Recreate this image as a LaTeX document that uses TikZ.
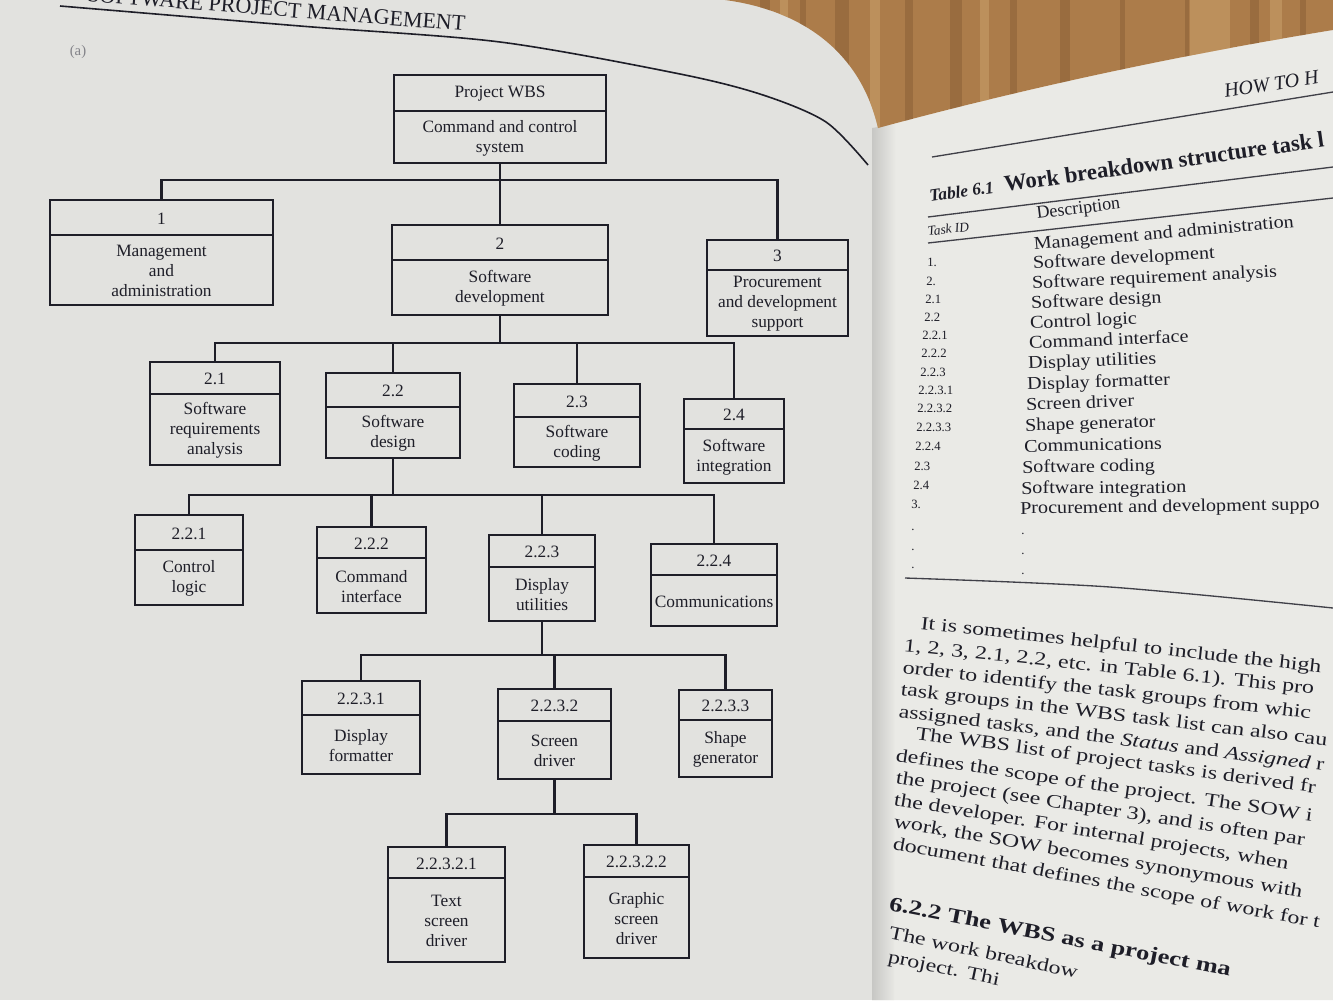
\documentclass[tikz,border=0pt]{standalone}
\usepackage{fontspec}
\setmainfont{Liberation Serif}
\newfontfamily\widepara[FakeStretch=1.28]{Liberation Serif}
\newfontfamily\widetab[FakeStretch=1.12]{Liberation Serif}
\usetikzlibrary{fit}
\definecolor{inkc}{RGB}{30,30,40}
\definecolor{pagel}{RGB}{226,226,223}
\definecolor{pager}{RGB}{234,234,230}
\definecolor{woodc}{RGB}{172,124,74}
\definecolor{woodd}{RGB}{120,80,45}
\definecolor{woodl}{RGB}{205,165,110}
\newcommand\wbsnode[8]{%
  \coordinate (#1-nw) at (#2,#3);
  \coordinate (#1-se) at (#4,#6);
  \node[wbsbox, fit=(#1-nw)(#1-se)] (#1) {};
  \draw[divider] (#2,#5) -- (#4,#5);
  \node[idtext] (#1-id) at ({(#2+#4)/2},{(#3+#5)/2+1}) {#7};
  \node[bodytext] (#1-txt) at ({(#2+#4)/2},{(#5+#6)/2+1}) {#8};
}
\begin{document}
\begin{tikzpicture}[x=0.75pt,y=-0.75pt,
  wbsbox/.style={draw=inkc,line width=1.1pt,inner sep=0pt},
  divider/.style={draw=inkc,line width=1.1pt},
  conn/.style={draw=inkc,line width=2pt},
  idtext/.style={text=inkc,inner sep=0pt,font=\fontsize{13}{15}\selectfont},
  bodytext/.style={text=inkc,inner sep=0pt,align=center,font=\fontsize{13}{15}\selectfont},
  rpt/.style={text=inkc,inner sep=0pt,anchor=base west},
  tdesc/.style={rpt,font=\widetab\fontsize{13.5}{15}\selectfont},
  tid/.style={rpt,font=\fontsize{9.5}{11}\selectfont},
  para/.style={rpt,font=\widepara\fontsize{14}{16}\selectfont},
  rulel/.style={draw=inkc!85,line width=1pt},
]
\useasboundingbox (0,0) rectangle (1333,1000);
\begin{scope}
\clip (0,0) rectangle (1333,1000);
% pages and table top
\fill[pagel] (0,0) rectangle (890,1000);
\fill[pager] (878,128) .. controls (1000,95) and (1150,60) .. (1333,30) -- (1333,1000) -- (872,1000) -- cycle;
\shade[left color=pagel!88!black, right color=pager] (872,128) -- (896,124) -- (894,1000) -- (872,1000) -- cycle;
\fill[woodc] (725,0) .. controls (800,10) and (860,50) .. (878,128) .. controls (1000,95) and (1150,60) .. (1333,30) -- (1333,0) -- cycle;
\begin{scope}
  \clip (725,0) .. controls (800,10) and (860,50) .. (878,128) .. controls (1000,95) and (1150,60) .. (1333,30) -- (1333,0) -- cycle;
  \foreach \x/\w in {760/10,800/6,835/14,905/8,950/12,1010/7,1060/10,1120/5,1185/4,1250/9,1300/6}
    \fill[woodd,opacity=.35] (\x,0) rectangle (\x+\w,140);
  \foreach \x/\w in {780/8,870/10,980/9,1190/40,1270/12}
    \fill[woodl,opacity=.5] (\x,0) rectangle (\x+\w,140);
\end{scope}

% ---------- left page header ----------
\node[text=inkc,inner sep=0pt,anchor=base east,rotate=-4.5,font=\fontsize{16.5}{18}\selectfont] (hdr) at (465,31) {SOFTWARE PROJECT MANAGEMENT};
\draw[inkc,line width=1.2pt] plot[smooth] coordinates {(60,6) (300,26) (500,42) (680,74) (763,95) (826,122) (868,165)};
\node[text=inkc!55,inner sep=0pt,font=\fontsize{11}{12}\selectfont] (figlabel) at (78,52) {(a)};

% ---------- WBS boxes ----------
\wbsnode{root}{394}{75}{606}{111}{163}{Project WBS}{Command and control\\system}
\wbsnode{b1}{50}{200}{273}{235}{305}{1}{Management\\and\\administration}
\wbsnode{b2}{392}{225}{608}{260}{315}{2}{Software\\development}
\wbsnode{b3}{707}{240}{848}{270}{336}{3}{Procurement\\and development\\support}
\wbsnode{b21}{150}{362}{280}{394}{465}{2.1}{Software\\requirements\\analysis}
\wbsnode{b22}{326}{373}{460}{407}{458}{2.2}{Software\\design}
\wbsnode{b23}{514}{384}{640}{417}{467}{2.3}{Software\\coding}
\wbsnode{b24}{684}{399}{784}{429}{483}{2.4}{Software\\integration}
\wbsnode{b221}{135}{515}{243}{550}{605}{2.2.1}{Control\\logic}
\wbsnode{b222}{317}{527}{426}{558}{613}{2.2.2}{Command\\interface}
\wbsnode{b223}{489}{535}{595}{567}{621}{2.2.3}{Display\\utilities}
\wbsnode{b224}{651}{544}{777}{575}{626}{2.2.4}{Communications}
\wbsnode{b2231}{302}{681}{420}{715}{774}{2.2.3.1}{Display\\formatter}
\wbsnode{b2232}{498}{689}{611}{721}{779}{2.2.3.2}{Screen\\driver}
\wbsnode{b2233}{679}{690}{772}{720}{777}{2.2.3.3}{Shape\\generator}
\wbsnode{b22321}{388}{847}{505}{878}{962}{2.2.3.2.1}{Text\\screen\\driver}
\wbsnode{b22322}{584}{845}{689}{877}{958}{2.2.3.2.2}{Graphic\\screen\\driver}

% ---------- connectors ----------
\coordinate (bar0) at (0,180);
\draw[conn] (root.south) -- (root.south |- bar0);
\draw[conn] (b1.north) -- (b1.north |- bar0) -- (b3.north |- bar0) -- (b3.north);
\draw[conn] (b2.north |- bar0) -- (b2.north);

\coordinate (bar1) at (0,343);
\draw[conn] (b2.south) -- (b2.south |- bar1);
\draw[conn] (b21.north) -- (b21.north |- bar1) -- (b24.north |- bar1) -- (b24.north);
\draw[conn] (b22.north |- bar1) -- (b22.north);
\draw[conn] (b23.north |- bar1) -- (b23.north);

\coordinate (bar2) at (0,495);
\draw[conn] (b22.south) -- (b22.south |- bar2);
\draw[conn] (b221.north) -- (b221.north |- bar2) -- (b224.north |- bar2) -- (b224.north);
\draw[conn] (b222.north |- bar2) -- (b222.north);
\draw[conn] (b223.north |- bar2) -- (b223.north);

\coordinate (bar3) at (0,655);
\draw[conn] (b223.south) -- (b223.south |- bar3);
\draw[conn] (b2231.north) -- (b2231.north |- bar3) -- (b2233.north |- bar3) -- (b2233.north);
\draw[conn] (b2232.north |- bar3) -- (b2232.north);

\coordinate (bar4) at (0,814);
\draw[conn] (b2232.south) -- (b2232.south |- bar4);
\draw[conn] (b22321.north) -- (b22321.north |- bar4) -- (b22322.north |- bar4) -- (b22322.north);

% ---------- right page ----------
\begin{scope}
\clip (878,128) .. controls (1000,95) and (1150,60) .. (1333,30) -- (1333,1000) -- (872,1000) -- cycle;
\node[rpt,font=\itshape\fontsize{15}{17}\selectfont,rotate=9] (rhead) at (1225,98) {HOW TO H};
\draw[rulel] (932,157) -- (1333,92);
\node[rpt,font=\bfseries\itshape\fontsize{13}{15}\selectfont,rotate=8] (ttl1) at (930,202) {Table 6.1};
\node[rpt,font=\bfseries\fontsize{17}{19}\selectfont,rotate=8] (ttl2) at (1005,192) {Work breakdown structure task l};
\draw[rulel] (928,217) -- (1333,167);
\node[rpt,font=\itshape\fontsize{10}{12}\selectfont,rotate=7] (thid) at (928,236) {Task ID};
\node[rpt,font=\fontsize{13.5}{15}\selectfont,rotate=7] (thd) at (1037,219) {Description};
\draw[rulel] (928,243) -- (1333,198);
\foreach \x/\y/\r/\t [count=\k] in {
  1034/250/5/Management and administration,
  1033/269/3.3/Software development,
  1032/289/2.8/Software requirement analysis,
  1031/309/2.7/Software design,
  1030/329/2.6/Control logic,
  1029/349/2.5/Command interface,
  1028/369/2.3/Display utilities,
  1027/390/2.0/Display formatter,
  1026/410/1.8/Screen driver,
  1025/431/1.6/Shape generator,
  1024/452/1.2/Communications,
  1022/473/0.8/Software coding,
  1021/494/0.4/Software integration,
  1020/514/0.8/Procurement and development suppo}
  \node[tdesc,rotate=\r] (desc\k) at (\x,\y) {\t};
\foreach \x/\y/\t [count=\k] in {
  927/266/1., 926/285/2., 925/303/2.1, 924/321/2.2, 922/339/2.2.1,
  921/357/2.2.2, 920/376/2.2.3, 918/394/2.2.3.1, 917/412/2.2.3.2,
  916/431/2.2.3.3, 915/450/2.2.4, 914/470/2.3, 913/489/2.4, 911/508/3.}
  \node[tid] (tid\k) at (\x,\y) {\t};
\foreach \y [count=\k] in {530,550,568}
  \node[tid] (iddot\k) at (911,\y) {.};
\foreach \y [count=\k] in {534,554,574}
  \node[tid] (descdot\k) at (1021,\y) {.};
\draw[rulel] plot[smooth] coordinates {(905,578) (1110,587) (1333,608)};

\node[para,rotate=-6.2] (p1) at (920,629) {It is sometimes helpful to include the high};
\node[para,rotate=-6.0] (p2) at (903,651) {1, 2, 3, 2.1, 2.2, etc. in Table 6.1). This pro};
\node[para,rotate=-6.4] (p3) at (902,673) {order to identify the task groups from whic};
\node[para,rotate=-6.8] (p4) at (900,695) {task groups in the WBS task list can also cau};
\node[para,rotate=-7.2] (p5) at (898,717) {assigned tasks, and the \textit{Status} and \textit{Assigned} r};
\node[para,rotate=-7.7] (p6) at (915,739) {The WBS list of project tasks is derived fr};
\node[para,rotate=-8.2] (p7) at (895,761) {defines the scope of the project. The SOW i};
\node[para,rotate=-8.7] (p8) at (895,783) {the project (see Chapter 3), and is often par};
\node[para,rotate=-9.2] (p9) at (893,805) {the developer. For internal projects, when};
\node[para,rotate=-9.8] (p10) at (893,827) {work, the SOW becomes synonymous with};
\node[para,rotate=-10.5] (p11) at (892,849) {document that defines the scope of work for t};
\node[para,font=\widepara\bfseries\fontsize{15.5}{18}\selectfont,rotate=-11] (h622) at (888,910) {6.2.2 The WBS as a project ma};
\node[para,rotate=-12] (p12) at (888,938) {The work breakdow};
\node[para,rotate=-12] (p13) at (887,962) {project. Thi};
\end{scope}
\end{scope}
\end{tikzpicture}
\end{document}
